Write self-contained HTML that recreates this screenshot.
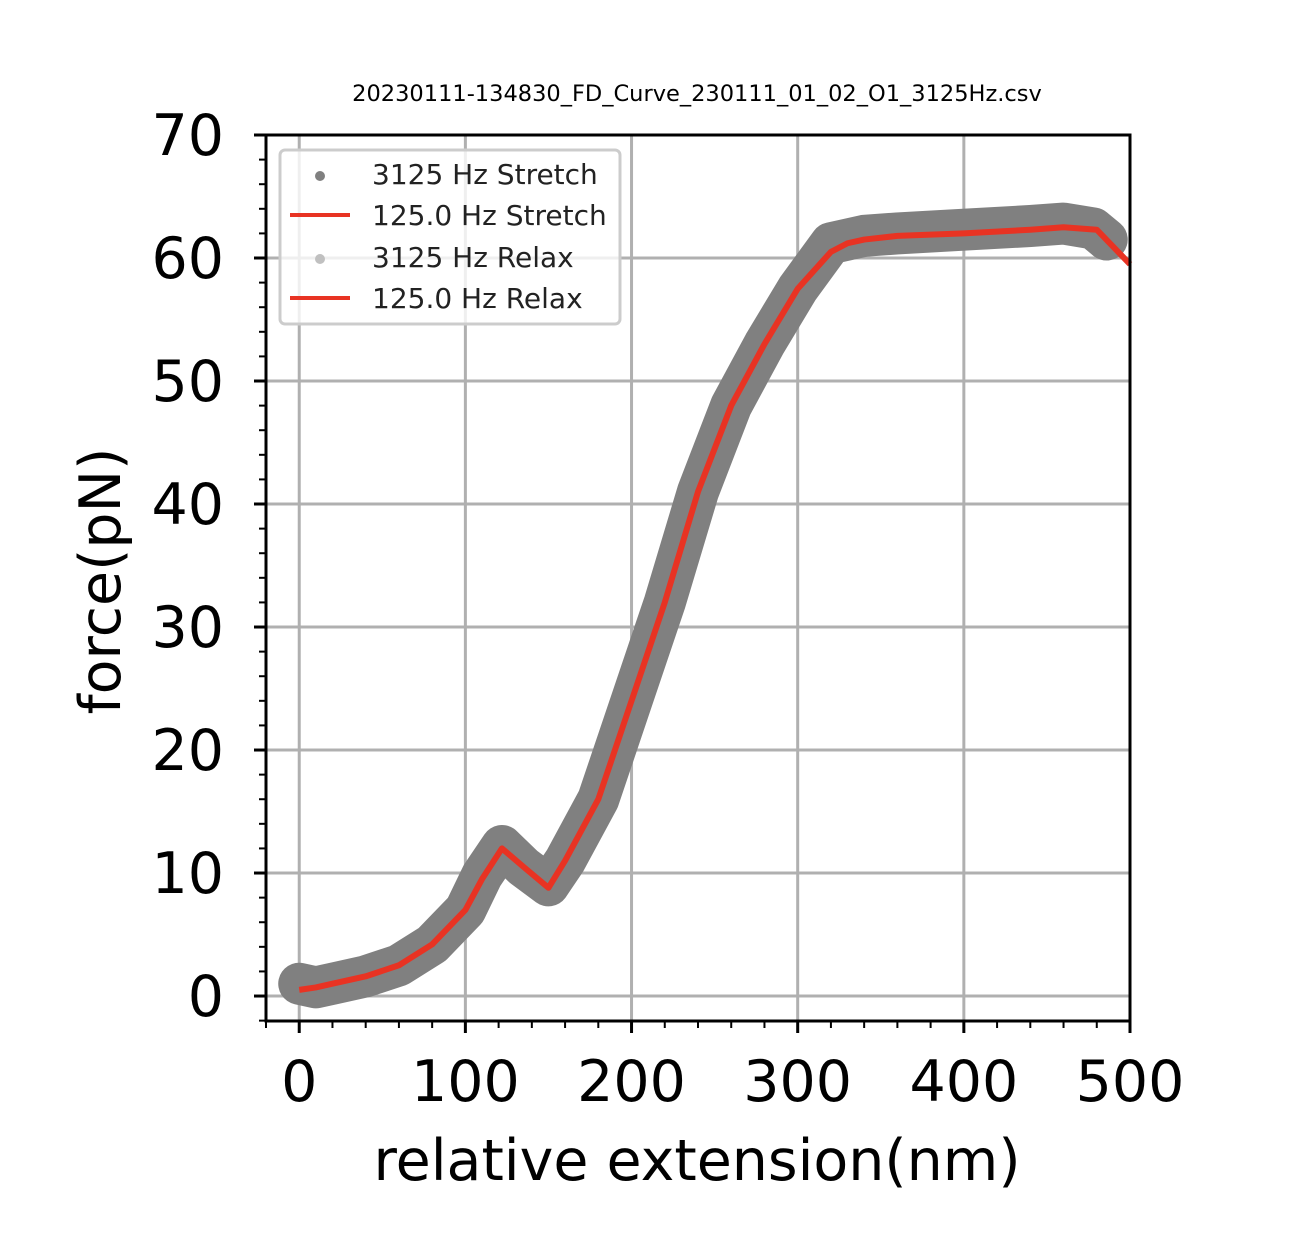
<!DOCTYPE html>
<html><head><meta charset="utf-8"><style>
body{margin:0;background:#fff;}
svg{display:block;font-family:"DejaVu Sans","Liberation Sans",sans-serif;}
</style></head><body>
<svg id="chart" width="1306" height="1238" viewBox="0 0 1306 1238">
<text x="697" y="101" font-size="22.5" text-anchor="middle">20230111-134830_FD_Curve_230111_01_02_O1_3125Hz.csv</text>
<g id="grid"></g>
<g id="marks"></g>
<g id="axes"></g>
<text x="697" y="1180" font-size="57" text-anchor="middle">relative extension(nm)</text>
<text transform="translate(120,581) rotate(-90)" font-size="57" text-anchor="middle">force(pN)</text>
<g>
<rect x="280" y="150" width="340" height="174" rx="5" fill="#fff" fill-opacity="0.8" stroke="#ccc" stroke-width="3"/>
<circle cx="320" cy="176" r="5" fill="#808080"/>
<text x="372" y="184" font-size="28" fill="#222">3125 Hz Stretch</text>
<line x1="290" y1="215" x2="350" y2="215" stroke="#e83323" stroke-width="4"/>
<text x="372" y="225" font-size="28" fill="#222">125.0 Hz Stretch</text>
<circle cx="320" cy="259" r="5" fill="#c0c0c0"/>
<text x="372" y="267" font-size="28" fill="#222">3125 Hz Relax</text>
<line x1="290" y1="298" x2="350" y2="298" stroke="#e83323" stroke-width="4"/>
<text x="372" y="308" font-size="28" fill="#222">125.0 Hz Relax</text>
</g>
</svg>
<script>
const rawX=[0,10,20,40,60,80,100,110,122,135,150,160,180,200,220,240,260,280,300,320,340,360,400,440,460,478,486];
const rawY=[1.0,0.7,1.0,1.6,2.5,4.2,7,9.8,12.2,10.5,9.0,11,16,24,32,41,48,53,57.5,61.2,61.8,62,62.3,62.6,62.8,62.4,61.5];
const fitX=[0,10,20,40,60,80,100,110,122,135,150,160,180,200,220,240,260,280,300,320,330,340,360,400,440,460,480,500];
const fitY=[0.5,0.7,1.0,1.6,2.5,4.2,7,9.5,12,10.5,8.8,11,16,24,32,41,48,53,57.5,60.5,61.2,61.5,61.8,62,62.3,62.5,62.3,59.5];
const xTicks=[0,100,200,300,400,500];
const yTicks=[0,10,20,30,40,50,60,70];
const L=266,R=1130,T=135,B=1021,X0=-20,X1=500,Y0=-2.03,Y1=70;
const sx=v=>L+(v-X0)/(X1-X0)*(R-L), sy=v=>B-(v-Y0)/(Y1-Y0)*(B-T);
const NS='http://www.w3.org/2000/svg';
function mk(p,t,a){const e=document.createElementNS(NS,t);for(const k in a)e.setAttribute(k,a[k]);p.appendChild(e);return e;}
const grid=document.getElementById('grid'),marks=document.getElementById('marks'),axes=document.getElementById('axes');
xTicks.forEach(v=>{const l=mk(grid,'line',{x1:sx(v),x2:sx(v),y1:T,y2:B,stroke:'#b0b0b0','stroke-width':3});

});
yTicks.forEach(v=>{const l=mk(grid,'line',{x1:L,x2:R,y1:sy(v),y2:sy(v),stroke:'#b0b0b0','stroke-width':3});

});
const band=mk(marks,'polyline',{points:rawX.map((x,i)=>sx(x)+','+sy(rawY[i])).join(' '),fill:'none',stroke:'#808080','stroke-width':42,'stroke-linejoin':'round','stroke-linecap':'round'});


const fit=mk(marks,'polyline',{points:fitX.map((x,i)=>sx(x)+','+sy(fitY[i])).join(' '),fill:'none',stroke:'#e83323','stroke-width':6,'stroke-linejoin':'round'});


mk(axes,'rect',{x:L,y:T,width:R-L,height:B-T,fill:'none',stroke:'#000','stroke-width':3});
for(let v=-20;v<=500;v+=20){const major=xTicks.includes(v);mk(axes,'line',{x1:sx(v),x2:sx(v),y1:B,y2:B+(major?12:7),stroke:'#000','stroke-width':major?3:2});}
for(let v=-2;v<=70;v+=2){const major=yTicks.includes(v);mk(axes,'line',{x1:L,x2:L-(major?12:7),y1:sy(v),y2:sy(v),stroke:'#000','stroke-width':major?3:2});}
xTicks.forEach(v=>{const t=mk(axes,'text',{x:sx(v),y:1101,'font-size':57,'text-anchor':'middle'});t.textContent=v;

});
yTicks.forEach(v=>{const t=mk(axes,'text',{x:224,y:sy(v)+20,'font-size':57,'text-anchor':'end'});t.textContent=v;

});
</script>
</body></html>
